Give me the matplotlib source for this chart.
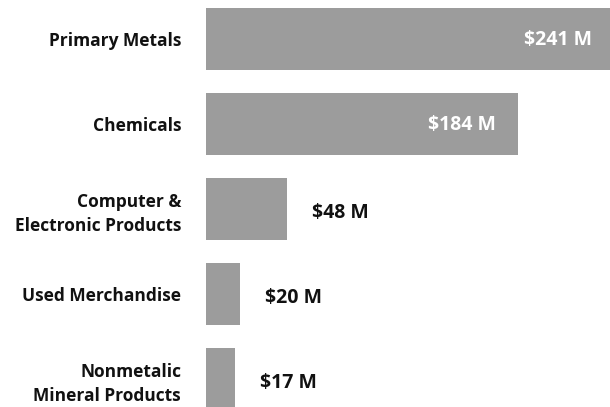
import matplotlib.pyplot as plt

categories = ["Primary Metals", "Chemicals", "Computer &\nElectronic Products",
              "Used Merchandise", "Nonmetalic\nMineral Products"]
values = [241, 184, 48, 20, 17]
value_labels = ["$241 M", "$184 M", "$48 M", "$20 M", "$17 M"]

plt.rcParams['font.family'] = ['Open Sans', 'DejaVu Sans']

fig = plt.figure(figsize=(6.1, 4.07), dpi=100)
ax = fig.add_axes([206 / 610, 0, 404 / 610, 1])

bar_color = "#9c9c9c"
ypos = list(range(len(categories)))
ax.barh(ypos, values, height=0.73, color=bar_color)

# 1.695 px per $M -> the largest bar runs past the right edge
ax.set_xlim(0, 404 / 1.695)
ax.set_ylim(4.33, -0.46)

ax.set_yticks(ypos)
ax.set_yticklabels(categories, fontsize=12.5, fontweight="bold", color="#111111",
                   linespacing=1.4)
ax.tick_params(axis="y", length=0, pad=18)
ax.set_xticks([])
for s in ax.spines.values():
    s.set_visible(False)

for i, (v, lab) in enumerate(zip(values, value_labels)):
    if v > 100:
        ax.annotate(lab, (v, i), xytext=(-22, -1), textcoords="offset pixels",
                    ha="right", va="center", color="white",
                    fontsize=14, fontweight="bold", annotation_clip=False)
    else:
        ax.annotate(lab, (v, i), xytext=(25, -4), textcoords="offset pixels",
                    ha="left", va="center", color="#111111",
                    fontsize=14, fontweight="bold")

fig.savefig("out.png", dpi=100)
